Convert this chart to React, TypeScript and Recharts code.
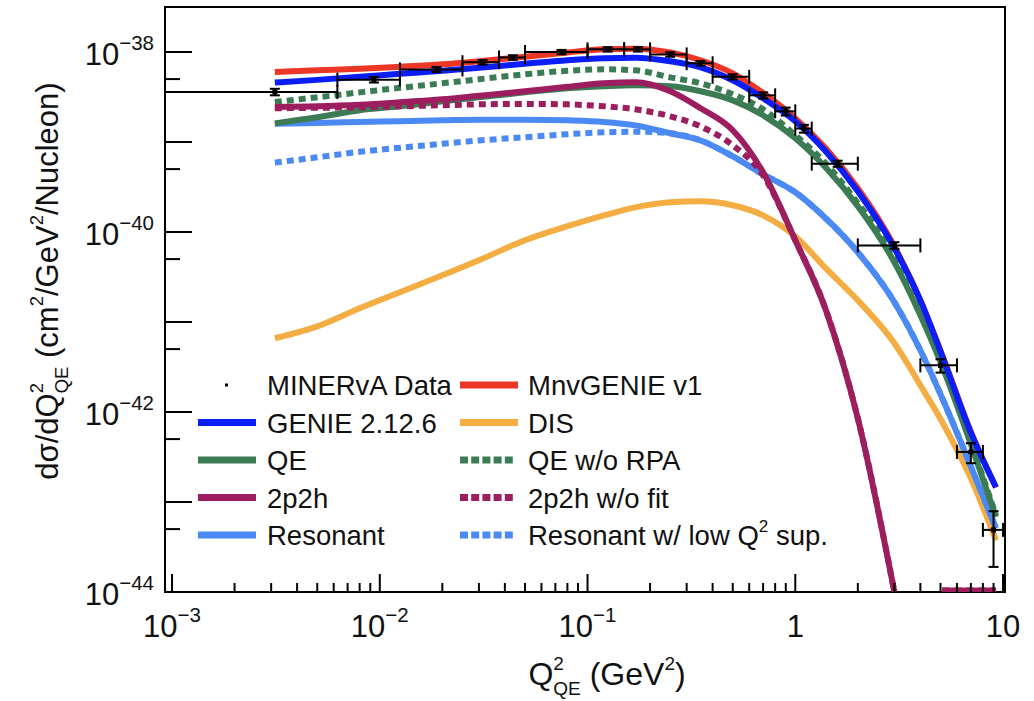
import React from 'react'
import {
  ComposedChart,
  Line,
  Scatter,
  ErrorBar,
  XAxis,
  YAxis,
  ReferenceArea,
} from 'recharts'

const FONT = "'Liberation Sans', Arial, Helvetica, sans-serif"
const INK = '#111'

const W = 1034
const H = 701

// axis ranges (log-log)
const Q2_MIN = 9.25e-4
const Q2_MAX = 10.22
const XSEC_MIN = 1e-44
const XSEC_MAX = 3.162e-38

const C = {
  mnv: '#ec3726',
  genie: '#0b1ef8',
  qe: '#3c7c55',
  twoP2h: '#9c1e5f',
  res: '#4b8af4',
  dis: '#f3ad42',
}

// Q2 (GeV^2) where the model curves are sampled
const q2Grid = [
  0.003125, 0.005, 0.008, 0.0125, 0.02, 0.03, 0.05, 0.08, 0.12, 0.17, 0.25,
  0.35, 0.5, 0.7, 1.0, 1.4, 2.0, 3.0, 4.0, 5.1, 7.0, 9.25,
]

// dsigma/dQ2 in cm^2/GeV^2/nucleon
const mnvGenieV1 = [
  6.0e-39, 6.27e-39, 6.5e-39, 6.85e-39, 7.3e-39, 7.9e-39, 8.85e-39, 9.9e-39,
  1.07e-38, 1.09e-38, 9.9e-39, 8.1e-39, 5.8e-39, 3.5e-39, 1.83e-39, 8.5e-40,
  3.06e-40, 6.9e-41, 1.74e-41, 4.27e-42, 6.0e-43, 1.45e-43,
]
const genie2126 = [
  4.57e-39, 4.9e-39, 5.3e-39, 5.73e-39, 6.18e-39, 6.67e-39, 7.4e-39, 8.09e-39,
  8.51e-39, 8.62e-39, 7.88e-39, 6.76e-39, 4.85e-39, 3.06e-39, 1.7e-39, 7.9e-40,
  2.83e-40, 6.6e-41, 1.74e-41, 4.16e-42, 5.9e-43, 1.46e-43,
]
const qeNoRpa = [
  2.78e-39, 3.14e-39, 3.56e-39, 4.0e-39, 4.49e-39, 4.98e-39, 5.65e-39, 6.18e-39,
  6.42e-39, 6.26e-39, 5.23e-39, 4.49e-39, 3.39e-39, 2.31e-39, 1.19e-39, 5.8e-40,
  2.09e-40, 5.37e-41, 1.35e-41, 3.39e-42, 4.6e-43, 7.1e-44,
]
const qe = [
  1.61e-39, 1.88e-39, 2.25e-39, 2.49e-39, 2.83e-39, 3.14e-39, 3.56e-39, 3.95e-39,
  4.16e-39, 4.27e-39, 4.16e-39, 3.66e-39, 2.9e-39, 1.98e-39, 1.1e-39, 5.2e-40,
  1.93e-40, 4.6e-41, 1.19e-41, 3.22e-42, 4.4e-43, 6.8e-44,
]
// 2p2h goes to zero above ~3 GeV^2; empty bins sit on the axis floor
const twoP2h = [
  2.45e-39, 2.49e-39, 2.59e-39, 2.76e-39, 2.98e-39, 3.26e-39, 3.66e-39, 4.1e-39,
  4.49e-39, 4.6e-39, 3.66e-39, 2.37e-39, 1.35e-39, 4.6e-40, 8.1e-41, 1.38e-41,
  8.5e-43, 1.0e-44, null, 1.04e-44, 1.04e-44, 1.04e-44,
]
const twoP2hNoFit = [
  2.37e-39, 2.4e-39, 2.43e-39, 2.49e-39, 2.56e-39, 2.62e-39, 2.65e-39, 2.62e-39,
  2.49e-39, 2.31e-39, 1.93e-39, 1.49e-39, 9.2e-40, 4.27e-40, 8.1e-41, 1.38e-41,
  8.5e-43, 1.0e-44, null, 1.04e-44, 1.04e-44, 1.04e-44,
]
const resonant = [
  1.6e-39, 1.63e-39, 1.67e-39, 1.7e-39, 1.74e-39, 1.77e-39, 1.77e-39, 1.74e-39,
  1.67e-39, 1.53e-39, 1.25e-39, 1.04e-39, 6.93e-40, 4.37e-40, 2.76e-40, 1.42e-40,
  5.95e-41, 1.66e-41, 4.85e-42, 1.42e-42, 2.49e-43, 5.1e-44,
]
const resonantLowQ2Sup = [
  5.9e-40, 6.76e-40, 7.78e-40, 8.63e-40, 9.55e-40, 1.04e-39, 1.13e-39, 1.22e-39,
  1.28e-39, 1.3e-39, 1.25e-39, 1.04e-39, 6.93e-40, 4.37e-40, 2.76e-40, 1.42e-40,
  5.95e-41, 1.66e-41, 4.85e-42, 1.42e-42, 2.49e-43, 5.1e-44,
]
const dis = [
  6.6e-42, 8.95e-42, 1.42e-41, 2.14e-41, 3.3e-41, 4.85e-41, 8.1e-41, 1.16e-40,
  1.53e-40, 1.88e-40, 2.14e-40, 2.19e-40, 1.98e-40, 1.53e-40, 8.95e-41, 3.96e-41,
  1.74e-41, 5.8e-42, 1.98e-42, 7.7e-43, 1.83e-43, 3.75e-44,
]

// MINERvA data: Q2 bin edges, cross section per bin, vertical error
const binEdges = [
  0, 0.00625, 0.0125, 0.025, 0.0375, 0.05, 0.1, 0.15, 0.2, 0.3, 0.4, 0.6, 0.8,
  1.0, 1.2, 2.0, 4.0, 6.0, 8.0, 10.0,
]
const dataXsec = [
  3.6e-39, 4.93e-39, 6.4e-39, 7.7e-39, 8.7e-39, 1.0e-38, 1.07e-38, 1.07e-38,
  9.4e-39, 7.5e-39, 5.3e-39, 3.3e-39, 2.19e-39, 1.41e-39, 5.75e-40, 7.1e-41,
  3.3e-42, 3.6e-43, 4.9e-44,
]
const dataErr = [
  3.0e-40, 3.5e-40, 4.0e-40, 4.5e-40, 5.0e-40, 5.5e-40, 6.0e-40, 6.0e-40,
  5.5e-40, 4.5e-40, 3.5e-40, 2.6e-40, 2.2e-40, 1.4e-40, 4.5e-41, 6.0e-42,
  5.6e-43, 9.0e-44, 3.0e-44,
]

const xMajorTicks = [1e-3, 1e-2, 1e-1, 1, 10]
const xTicks = [
  ...xMajorTicks,
  ...xMajorTicks.slice(0, -1).flatMap((d) => [2, 3, 4, 5, 6, 7, 8, 9].map((m) => m * d)),
].sort((a, b) => a - b)
const yMajorTicks = [1e-44, 1e-43, 1e-42, 1e-41, 1e-40, 1e-39, 1e-38]
const yTicks = [...yMajorTicks, ...yMajorTicks.slice(0, -1).map((d) => 5 * d)].sort(
  (a, b) => a - b,
)

const curve = (vals: (number | null)[]) => q2Grid.map((x, i) => ({ x, y: vals[i] }))

const dataPoints = dataXsec.map((y, i) => {
  const lo = Math.max(binEdges[i], Q2_MIN)
  const hi = binEdges[i + 1]
  const x = (binEdges[i] + binEdges[i + 1]) / 2
  return { x, y, xErr: [x - lo, hi - x], yErr: dataErr[i] }
})

const isDecade = (v: number) => {
  const l = Math.log10(v)
  return Math.abs(l - Math.round(l)) < 1e-6
}

function PowerLabel({ x, y, exp, anchor }: { x: number; y: number; exp: number; anchor: string }) {
  const common = { x, y, textAnchor: anchor as any, fontFamily: FONT, fontSize: 31, fill: INK }
  if (exp === 0) return <text {...common}>1</text>
  if (exp === 1) return <text {...common}>10</text>
  return (
    <text {...common}>
      10
      <tspan fontSize={20.5} dy={-15}>
        {'\u2212' + Math.abs(exp)}
      </tspan>
    </text>
  )
}

function XTick(props: any) {
  const { x, y, payload } = props
  const v = payload.value
  const major = isDecade(v)
  return (
    <g>
      <line x1={x} x2={x} y1={y} y2={y - (major ? 18 : 9)} stroke="#000" strokeWidth={2} />
      {major && (
        <PowerLabel x={x} y={y + 45} exp={Math.round(Math.log10(v))} anchor="middle" />
      )}
    </g>
  )
}

function YTick(props: any) {
  const { x, y, payload } = props
  const v = payload.value
  const major = isDecade(v)
  const exp = Math.round(Math.log10(v))
  return (
    <g>
      <line x1={x} x2={x + (major ? 27 : 15)} y1={y} y2={y} stroke="#000" strokeWidth={2} />
      {major && exp % 2 === 0 && <PowerLabel x={x - 11} y={y + 13} exp={exp} anchor="end" />}
    </g>
  )
}

function DataMarker(props: any) {
  const { cx, cy } = props
  return <rect x={cx - 2.5} y={cy - 2.5} width={5} height={5} fill="#000" />
}

const legendCols = [
  {
    lineX: 198,
    textX: 267,
    items: [
      { label: 'MINERvA Data', color: '#000', dash: undefined, data: true },
      { label: 'GENIE 2.12.6', color: C.genie },
      { label: 'QE', color: C.qe },
      { label: '2p2h', color: C.twoP2h },
      { label: 'Resonant', color: C.res },
    ],
  },
  {
    lineX: 460,
    textX: 528,
    items: [
      { label: 'MnvGENIE v1', color: C.mnv },
      { label: 'DIS', color: C.dis },
      { label: 'QE w/o RPA', color: C.qe, dash: '8 3.2' },
      { label: '2p2h w/o fit', color: C.twoP2h, dash: '8 3.2' },
      { label: 'Resonant w/ low Q', color: C.res, dash: '8 3.2', sup: true },
    ],
  },
]
const legendRowY = [385, 422.5, 460, 497.5, 535]

function Overlay() {
  return (
    <svg
      width={W}
      height={H}
      style={{ position: 'absolute', left: 0, top: 0, pointerEvents: 'none' }}
    >
      {legendCols.map((col, ci) =>
        col.items.map((it: any, ri) => {
          const cy = legendRowY[ri]
          return (
            <g key={`${ci}-${ri}`}>
              {it.data ? (
                <rect x={225} y={cy - 1.5} width={3} height={3} fill="#000" />
              ) : (
                <line
                  x1={col.lineX}
                  x2={col.lineX + (it.dash ? 53 : 58)}
                  y1={cy}
                  y2={cy}
                  stroke={it.color}
                  strokeWidth={7}
                  strokeDasharray={it.dash}
                />
              )}
              <text x={col.textX} y={cy + 10} fontFamily={FONT} fontSize={27.5} fill={INK}>
                {it.label}
                {it.sup && (
                  <>
                    <tspan fontSize={17} dy={-13}>
                      2
                    </tspan>
                    <tspan dy={13}>{' sup.'}</tspan>
                  </>
                )}
              </text>
            </g>
          )
        }),
      )}

      {/* x title */}
      <text x={607} y={685} textAnchor="middle" fontFamily={FONT} fontSize={32} fill={INK}>
        Q
        <tspan fontSize={19} dy={-15}>
          2
        </tspan>
        <tspan fontSize={19} dx={-10.5} dy={25}>
          QE
        </tspan>
        <tspan dy={-10}>{' (GeV'}</tspan>
        <tspan fontSize={19} dy={-15}>
          2
        </tspan>
        <tspan dy={15}>)</tspan>
      </text>

      {/* y title */}
      <text
        transform="rotate(-90)"
        x={-281}
        y={58}
        textAnchor="middle"
        fontFamily={FONT}
        fontSize={31}
        fill={INK}
      >
        {'d\u03c3/dQ'}
        <tspan fontSize={18.5} dy={-15}>
          2
        </tspan>
        <tspan fontSize={18.5} dx={-10.3} dy={25}>
          QE
        </tspan>
        <tspan dy={-10}>{' (cm'}</tspan>
        <tspan fontSize={18.5} dy={-15}>
          2
        </tspan>
        <tspan dy={15}>/GeV</tspan>
        <tspan fontSize={18.5} dy={-15}>
          2
        </tspan>
        <tspan dy={15}>/Nucleon)</tspan>
      </text>
    </svg>
  )
}

export default function App() {
  const lineProps = {
    dataKey: 'y',
    type: 'monotone' as const,
    dot: false,
    activeDot: false,
    isAnimationActive: false,
    strokeWidth: 6,
  }
  return (
    <div style={{ position: 'absolute', left: 0, top: 0, width: W, height: H, background: '#fff' }}>
      <ComposedChart width={W} height={H} margin={{ top: 7, right: 29, bottom: 0, left: 0 }}>
        <XAxis
          dataKey="x"
          type="number"
          scale="log"
          domain={[Q2_MIN, Q2_MAX]}
          allowDataOverflow
          ticks={xTicks}
          interval={0}
          tick={(p: any) => <XTick {...p} />}
          tickLine={false}
          axisLine={false}
          tickSize={0}
          tickMargin={0}
          height={109}
        />
        <YAxis
          dataKey="y"
          type="number"
          scale="log"
          domain={[XSEC_MIN, XSEC_MAX]}
          allowDataOverflow
          ticks={yTicks}
          interval={0}
          tick={(p: any) => <YTick {...p} />}
          tickLine={false}
          axisLine={false}
          tickSize={0}
          tickMargin={0}
          width={165}
        />
        <ReferenceArea
          x1={Q2_MIN}
          x2={Q2_MAX}
          y1={XSEC_MIN}
          y2={XSEC_MAX}
          fill="none"
          stroke="#000"
          strokeWidth={2}
        />
        <Line {...lineProps} data={curve(dis)} stroke={C.dis} />
        <Line {...lineProps} data={curve(resonantLowQ2Sup)} stroke={C.res} strokeDasharray="7 5" />
        <Line {...lineProps} data={curve(resonant)} stroke={C.res} />
        <Line {...lineProps} data={curve(qeNoRpa)} stroke={C.qe} strokeDasharray="7 5" />
        <Line {...lineProps} data={curve(qe)} stroke={C.qe} />
        <Line {...lineProps} data={curve(twoP2hNoFit)} stroke={C.twoP2h} strokeDasharray="7 5" />
        <Line {...lineProps} data={curve(twoP2h)} stroke={C.twoP2h} />
        <Line {...lineProps} data={curve(mnvGenieV1)} stroke={C.mnv} />
        <Line {...lineProps} data={curve(genie2126)} stroke={C.genie} />
        <Scatter data={dataPoints} dataKey="y" shape={DataMarker} isAnimationActive={false}>
          <ErrorBar
            dataKey="xErr"
            direction="x"
            width={7}
            stroke="#000"
            strokeWidth={2}
            isAnimationActive={false}
          />
          <ErrorBar
            dataKey="yErr"
            direction="y"
            width={5}
            stroke="#000"
            strokeWidth={2}
            isAnimationActive={false}
          />
        </Scatter>
      </ComposedChart>
      <Overlay />
    </div>
  )
}
